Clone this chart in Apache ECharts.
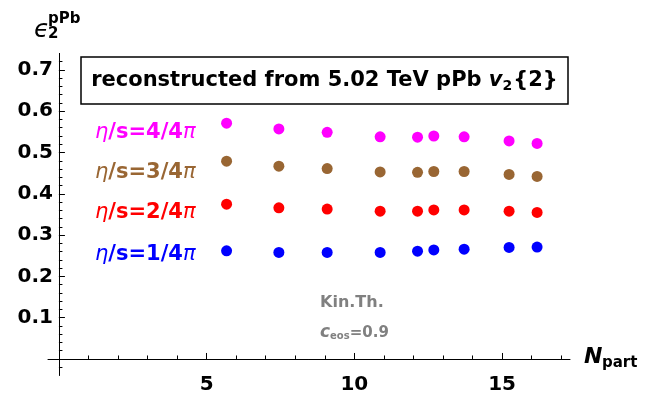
<!DOCTYPE html>
<html><head><meta charset="utf-8">
<script src="https://cdn.jsdelivr.net/npm/echarts@6/dist/echarts.min.js"></script>
<style>html,body{margin:0;padding:0;background:#fff}#c{width:651px;height:394px}</style>
</head><body><div id="c"></div>
<script>
const npart = [5.675, 7.445, 9.08, 10.873, 12.139, 12.69, 13.716, 15.238, 16.186];
const eps4 = [0.571, 0.557, 0.549, 0.538, 0.537, 0.540, 0.538, 0.528, 0.522];
const eps3 = [0.479, 0.467, 0.461, 0.453, 0.452, 0.454, 0.454, 0.447, 0.442];
const eps2 = [0.375, 0.366, 0.363, 0.358, 0.358, 0.361, 0.361, 0.358, 0.355];
const eps1 = [0.262, 0.258, 0.258, 0.258, 0.261, 0.264, 0.266, 0.270, 0.271];
const seriesNames = ['η/s=4/4π', 'η/s=3/4π', 'η/s=2/4π', 'η/s=1/4π'];
const seriesNums = ['4', '3', '2', '1'];
const colors = ['#ff00ff', '#996633', '#ff0000', '#0000ff'];
const xMajor = [5, 10, 15];
const xMinor = [1,2,3,4,5,6,7,8,9,10,11,12,13,14,15,16,17];
const yMajor = [0.1, 0.2, 0.3, 0.4, 0.5, 0.6, 0.7];
const yMinor = [0.02,0.04,0.06,0.08,0.1,0.12,0.14,0.16,0.18,0.2,0.22,0.24,0.26,0.28,0.3,0.32,0.34,0.36,0.38,0.4,0.42,0.44,0.46,0.48,0.5,0.52,0.54,0.56,0.58,0.6,0.62,0.64,0.66,0.68,0.7,0.72,-0.02];

const FONT = '"DejaVu Sans", sans-serif';
const allSeries = [eps4, eps3, eps2, eps1];
const chart = echarts.init(document.getElementById('c'), null, {renderer: 'canvas'});
const lineStyle = {color: '#000', width: 1};
const labelY = [133, 173, 213, 255];

const graphics = [
  {type: 'rect', shape: {x: 81, y: 57, width: 487, height: 47}, style: {fill: '#fff', stroke: '#000', lineWidth: 1.5}, z: 10},
  {type: 'text', x: 324.5, y: 81, z: 11, style: {
    text: '{b|reconstructed from 5.02 TeV pPb }{v|v}{s|2}{b|{2}}',
    font: 'bold 21px ' + FONT, fill: '#000',
    align: 'center', verticalAlign: 'middle',
    rich: {
      b: {font: 'bold 21px ' + FONT, fill: '#000'},
      v: {font: 'italic bold 21px ' + FONT, fill: '#000'},
      s: {font: 'bold 14px ' + FONT, fill: '#000', padding: [10, 1, 0, 0]}
    }
  }},
  {type: 'text', x: 34, y: 30, style: {text: 'ϵ', font: 'italic 25px ' + FONT, fill: '#000', verticalAlign: 'middle'}},
  {type: 'text', x: 48, y: 34, style: {text: '2', font: 'bold 15px ' + FONT, fill: '#000', verticalAlign: 'middle'}},
  {type: 'text', x: 48, y: 19, style: {text: 'pPb', font: 'bold 15px ' + FONT, fill: '#000', verticalAlign: 'middle'}},
  {type: 'text', x: 584, y: 357, style: {text: 'N', font: 'italic bold 22px ' + FONT, fill: '#000', verticalAlign: 'middle'}},
  {type: 'text', x: 602, y: 363, style: {text: 'part', font: 'bold 15px ' + FONT, fill: '#000', verticalAlign: 'middle'}},
  {type: 'text', x: 320, y: 303, style: {text: 'Kin.Th.', font: 'bold 16px ' + FONT, fill: '#808080', verticalAlign: 'middle'}},
  {type: 'text', x: 320, y: 333, style: {
    text: '{c|c}{s|eos}{b|=0.9}', verticalAlign: 'middle',
    rich: {
      c: {font: 'italic bold 17px ' + FONT, fill: '#808080'},
      s: {font: 'bold 10px ' + FONT, fill: '#808080', padding: [7, 0, 0, 0]},
      b: {font: 'bold 15px ' + FONT, fill: '#808080'}
    }
  }}
];
seriesNums.forEach((n, i) => {
  graphics.push({type: 'text', x: 95, y: labelY[i], style: {
    text: '{i|η}{b|/s=' + n + '/4}{i|π}', verticalAlign: 'middle',
    rich: {
      i: {font: 'italic 21px ' + FONT, fill: colors[i]},
      b: {font: 'bold 21px ' + FONT, fill: colors[i]}
    }
  }});
});

chart.setOption({
  animation: false,
  grid: {left: 48, right: 81, top: 53.4, bottom: 18.5, containLabel: false, outerBoundsMode: 'none'},
  xAxis: [
    {type: 'value', min: -0.37, max: 17.3, position: 'bottom',
     axisLine: {show: true, onZero: true, lineStyle: lineStyle},
     axisTick: {show: true, inside: true, length: 6, customValues: xMajor, lineStyle: lineStyle},
     axisLabel: {show: true, customValues: xMajor, margin: -1, color: '#000', fontFamily: FONT, fontWeight: 'bold', fontSize: 20},
     splitLine: {show: false}},
    {type: 'value', min: -0.37, max: 17.3, position: 'top',
     axisLine: {show: false, onZero: true},
     axisTick: {show: true, inside: false, length: 3.5, customValues: xMinor, lineStyle: lineStyle},
     axisLabel: {show: false}, splitLine: {show: false}}
  ],
  yAxis: [
    {type: 'value', min: -0.04, max: 0.74, position: 'left',
     axisLine: {show: true, onZero: true, lineStyle: lineStyle},
     axisTick: {show: true, inside: true, length: 6, customValues: yMajor, lineStyle: lineStyle},
     axisLabel: {show: true, customValues: yMajor, margin: -5, color: '#000', fontFamily: FONT, fontWeight: 'bold', fontSize: 20,
       formatter: v => v.toFixed(1)},
     splitLine: {show: false}},
    {type: 'value', min: -0.04, max: 0.74, position: 'right',
     axisLine: {show: false, onZero: true},
     axisTick: {show: true, inside: false, length: 3.5, customValues: yMinor, lineStyle: lineStyle},
     axisLabel: {show: false}, splitLine: {show: false}}
  ],
  series: allSeries.map((vals, i) => ({
    type: 'scatter', name: seriesNames[i], xAxisIndex: 0, yAxisIndex: 0,
    symbol: 'circle', symbolSize: 11,
    itemStyle: {color: colors[i], opacity: 1},
    data: npart.map((x, j) => [x, vals[j]])
  })),
  graphic: graphics
});
</script></body></html>
